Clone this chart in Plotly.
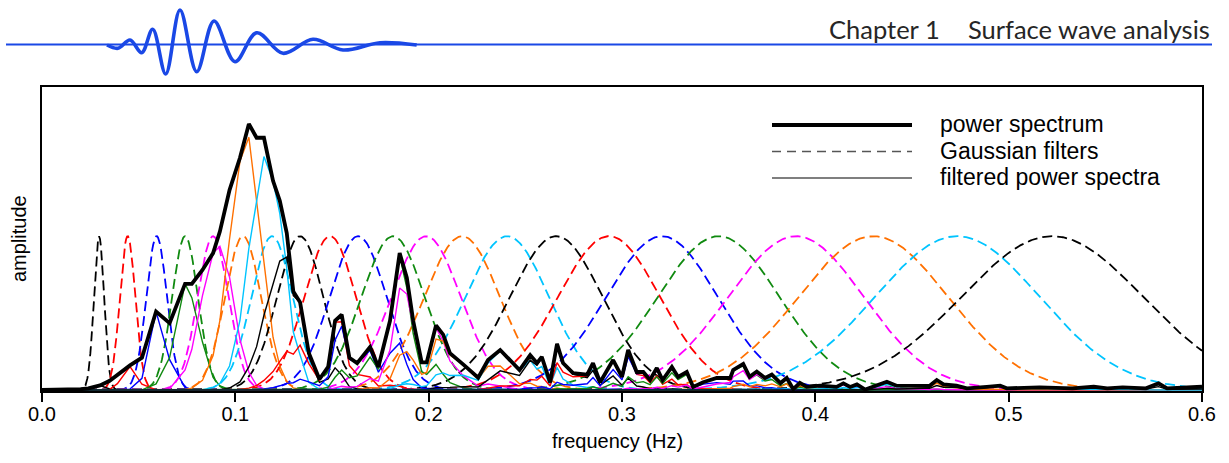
import numpy as np
import plotly.graph_objects as go

# ---------------------------------------------------------------- data
# power spectrum (frequency in Hz, relative amplitude)
spec_freq = [0.000, 0.003, 0.010, 0.020, 0.024, 0.030, 0.035, 0.039, 0.0455, 0.0517,
             0.059, 0.066, 0.074, 0.0775, 0.083, 0.0885, 0.092, 0.097, 0.1024, 0.107,
             0.111, 0.1148, 0.1195, 0.123, 0.1266, 0.130, 0.1335, 0.1380, 0.1435, 0.148,
             0.1516, 0.155, 0.159, 0.163, 0.1697, 0.174, 0.180, 0.185, 0.1887, 0.192,
             0.1964, 0.199, 0.2038, 0.2075, 0.211, 0.218, 0.2256, 0.2307, 0.237, 0.247,
             0.2525, 0.256, 0.2585, 0.2628, 0.2664, 0.2695, 0.2747, 0.282, 0.285, 0.2887,
             0.2954, 0.300, 0.3032, 0.3076, 0.311, 0.3145, 0.318, 0.321, 0.3258, 0.329,
             0.3335, 0.3368, 0.342, 0.349, 0.356, 0.3575, 0.3627, 0.366, 0.3697, 0.374,
             0.3775, 0.382, 0.3852, 0.3886, 0.392, 0.3956, 0.4025, 0.411, 0.4145, 0.418,
             0.4215, 0.4258, 0.437, 0.442, 0.454, 0.459, 0.4628, 0.4663, 0.473, 0.4784,
             0.4887, 0.4956, 0.499, 0.516, 0.533, 0.544, 0.551, 0.559, 0.571, 0.5775,
             0.582, 0.600]
spec_amp = [0.000, 0.000, 0.000, 0.005, 0.010, 0.030, 0.060, 0.100, 0.160, 0.210,
            0.510, 0.435, 0.690, 0.690, 0.780, 0.890, 1.030, 1.300, 1.510, 1.730,
            1.640, 1.640, 1.360, 1.230, 1.020, 0.640, 0.570, 0.240, 0.070, 0.150,
            0.450, 0.490, 0.210, 0.175, 0.280, 0.150, 0.450, 0.890, 0.730, 0.450,
            0.180, 0.180, 0.420, 0.360, 0.240, 0.165, 0.080, 0.195, 0.260, 0.130,
            0.227, 0.175, 0.215, 0.050, 0.300, 0.175, 0.110, 0.100, 0.175, 0.050,
            0.195, 0.085, 0.260, 0.117, 0.117, 0.065, 0.143, 0.065, 0.150, 0.085,
            0.117, 0.020, 0.050, 0.078, 0.078, 0.130, 0.170, 0.086, 0.120, 0.078,
            0.100, 0.045, 0.078, 0.005, 0.047, 0.020, 0.028, 0.020, 0.043, 0.020,
            0.036, 0.003, 0.054, 0.028, 0.030, 0.026, 0.065, 0.037, 0.028, 0.011,
            0.021, 0.028, 0.011, 0.017, 0.011, 0.021, 0.011, 0.017, 0.011, 0.043,
            0.011, 0.021]

# centre frequencies of the Gaussian filter bank (Hz) and relative width factor
filter_centres = [0.0295, 0.0443, 0.0593, 0.0740, 0.0885, 0.1040, 0.1190, 0.1335,
                  0.1490, 0.1635, 0.1816, 0.1987, 0.2173, 0.2406, 0.2660, 0.2933,
                  0.3207, 0.3500, 0.3900, 0.4300, 0.4734, 0.5225]
filter_alpha = 62.0

filter_colors = ["#000000", "#FF0000", "#0000FF", "#108A10", "#FF00FF", "#FF7000", "#00C4FF"]

# seismogram shown in the page header (time in s, normalised amplitude)
seis_t = [50.5, 56.0, 62.0, 67.85, 73.35, 79.85, 87.0, 95.35, 104.0, 114.5,
          125.35, 138.5, 153.5, 168.5, 187.0, 205.35]
seis_a = [0.000, -0.094, 0.143, -0.220, 0.449, -0.829, 1.000, -0.763, 0.686, -0.477,
          0.351, -0.237, 0.163, -0.143, 0.066, 0.000]

freq_ticks = [0.0, 0.1, 0.2, 0.3, 0.4, 0.5, 0.6]

# ---------------------------------------------------------------- figure
W, H = 1229, 463
BLUE = "#1A48E6"
FONT = "Liberation Sans"


def px(x):
    return x / W


def py(y):
    return 1 - y / H


fig = go.Figure()

f_fine = np.linspace(0, 0.6, 1201)
sf = np.array(spec_freq)
sa = np.array(spec_amp)

# Gaussian filters (dashed)
for i, fc in enumerate(filter_centres):
    g = np.exp(-filter_alpha * ((f_fine - fc) / fc) ** 2)
    fig.add_trace(go.Scatter(x=f_fine, y=g, mode="lines",
                             line=dict(color=filter_colors[i % 7], width=1.8, dash="10px,5px"),
                             hoverinfo="skip"))

# filtered power spectra (thin solid)
for i, fc in enumerate(filter_centres):
    g = np.exp(-filter_alpha * ((sf - fc) / fc) ** 2)
    fig.add_trace(go.Scatter(x=sf, y=sa * g, mode="lines",
                             line=dict(color=filter_colors[i % 7], width=1.4),
                             hoverinfo="skip"))

# power spectrum (bold)
fig.add_trace(go.Scatter(x=sf, y=sa, mode="lines",
                         line=dict(color="black", width=3.8), hoverinfo="skip"))

# header seismogram
fig.add_trace(go.Scatter(x=seis_t, y=seis_a, mode="lines", xaxis="x2", yaxis="y2",
                         line=dict(color=BLUE, width=3.6, shape="spline"),
                         hoverinfo="skip"))

fig.update_layout(
    width=W, height=H, autosize=False,
    margin=dict(l=0, r=0, t=0, b=0, pad=0, autoexpand=False),
    paper_bgcolor="white", plot_bgcolor="white",
    showlegend=False,
    font=dict(family=FONT, color="black", size=20),
    xaxis=dict(domain=[px(42), px(1202)], range=[0, 0.6],
               tickvals=freq_ticks, ticktext=[f"{v:.1f}" for v in freq_ticks],
               ticks="outside", ticklen=9, tickwidth=1.5, tickcolor="black",
               ticklabelstandoff=-5,
               tickfont=dict(size=20, family=FONT),
               showline=True, mirror=True, linecolor="black", linewidth=2,
               showgrid=False, zeroline=False),
    yaxis=dict(domain=[py(391), py(87)], range=[-0.0065, 1.97],
               showticklabels=False, ticks="",
               showline=True, mirror=True, linecolor="black", linewidth=2,
               showgrid=False, zeroline=False),
    xaxis2=dict(domain=[0, 1], range=[-3, 611.5], visible=False, anchor="y2"),
    yaxis2=dict(domain=[py(80), 1], range=[-1, 45 / 35], visible=False, anchor="x2"),
)

shapes = [
    # header rule
    dict(type="line", xref="paper", yref="paper", x0=px(6), x1=px(1212),
         y0=py(44.5), y1=py(44.5), line=dict(color=BLUE, width=2)),
    # legend keys
    dict(type="line", xref="paper", yref="paper", x0=px(772), x1=px(912),
         y0=py(125), y1=py(125), line=dict(color="black", width=4)),
    dict(type="line", xref="paper", yref="paper", x0=px(772), x1=px(912),
         y0=py(151.5), y1=py(151.5), line=dict(color="#555555", width=1.4, dash="9px,6px")),
    dict(type="line", xref="paper", yref="paper", x0=px(772), x1=px(912),
         y0=py(178), y1=py(178), line=dict(color="#555555", width=1.4)),
]
fig.update_layout(shapes=shapes)

annotations = [
    dict(text="power spectrum", x=px(938), y=py(124), xanchor="left", yanchor="middle"),
    dict(text="Gaussian filters", x=px(938), y=py(150.5), xanchor="left", yanchor="middle"),
    dict(text="filtered power spectra", x=px(938), y=py(177), xanchor="left", yanchor="middle"),
]
for a in annotations:
    a.update(xref="paper", yref="paper", showarrow=False, font=dict(size=23, family=FONT))

annotations += [
    dict(text="frequency (Hz)", x=px(617), y=py(441), xref="paper", yref="paper",
         showarrow=False, xanchor="center", yanchor="middle", font=dict(size=20, family=FONT)),
    dict(text="amplitude", x=px(19), y=py(239), xref="paper", yref="paper",
         showarrow=False, xanchor="center", yanchor="middle", textangle=-90,
         font=dict(size=20, family=FONT)),
    dict(text="Chapter 1", x=px(942), y=py(29), xref="paper", yref="paper",
         showarrow=False, xanchor="right", yanchor="middle",
         font=dict(size=25.5, family="Lato", color="#262626")),
    dict(text="Surface wave analysis", x=px(1212), y=py(29), xref="paper", yref="paper",
         showarrow=False, xanchor="right", yanchor="middle",
         font=dict(size=25.5, family="Lato", color="#262626")),
]
fig.update_layout(annotations=annotations)

fig.write_html("out.html")
